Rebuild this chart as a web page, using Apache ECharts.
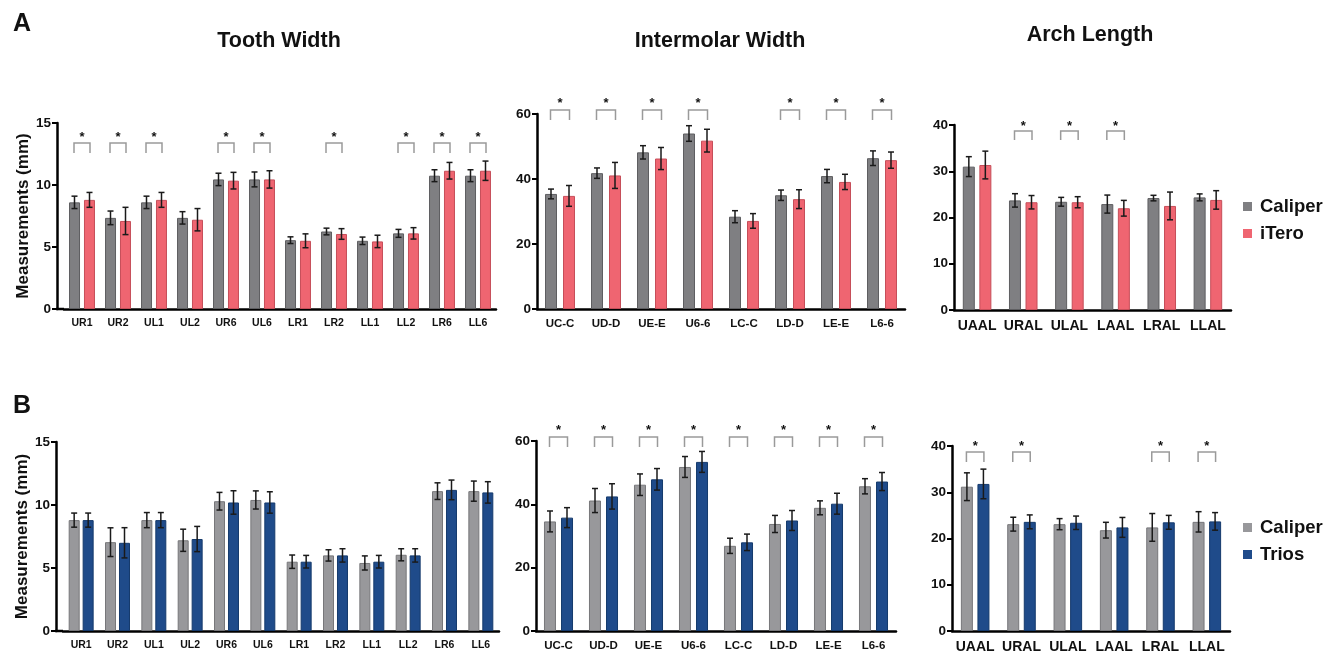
<!DOCTYPE html>
<html><head><meta charset="utf-8">
<script src="https://cdn.jsdelivr.net/npm/echarts@6/dist/echarts.min.js"></script>
<style>html,body{margin:0;padding:0;background:#fff}#c{width:1337px;height:658px}</style>
</head><body><div id="c"></div>
<script>
// ---------- DATA ----------
const toothCats = ['UR1','UR2','UL1','UL2','UR6','UL6','LR1','LR2','LL1','LL2','LR6','LL6'];
const interCats = ['UC-C','UD-D','UE-E','U6-6','LC-C','LD-D','LE-E','L6-6'];
const archCats  = ['UAAL','URAL','ULAL','LAAL','LRAL','LLAL'];
const yTicksTooth = [0,5,10,15];
const yTicksInter = [0,20,40,60];
const yTicksArch  = [0,10,20,30,40];

// Row A: Caliper vs iTero
const aToothCaliper   = [8.6,7.35,8.6,7.35,10.45,10.45,5.55,6.25,5.5,6.1,10.75,10.75];
const aToothCaliperSD = [0.5,0.55,0.5,0.5,0.5,0.6,0.27,0.27,0.3,0.32,0.48,0.48];
const aToothITero     = [8.8,7.1,8.8,7.2,10.35,10.45,5.5,6.05,5.45,6.1,11.15,11.15];
const aToothITeroSD   = [0.6,1.1,0.6,0.9,0.67,0.7,0.56,0.43,0.5,0.46,0.67,0.78];
const aToothSig       = [1,1,1,0,1,1,0,1,0,1,1,1];

const aInterCaliper   = [35.4,41.8,48.2,54.0,28.4,35.0,40.9,46.4];
const aInterCaliperSD = [1.5,1.6,2.05,2.4,1.85,1.6,2.05,2.25];
const aInterITero     = [34.8,41.1,46.3,51.8,27.1,33.8,39.1,45.8];
const aInterITeroSD   = [3.2,4.0,3.4,3.5,2.25,2.9,2.35,2.5];
const aInterSig       = [1,1,1,1,0,1,1,1];

const aArchCaliper    = [31.0,23.7,23.4,22.9,24.2,24.35];
const aArchCaliperSD  = [2.15,1.45,0.95,1.95,0.6,0.75];
const aArchITero      = [31.35,23.3,23.3,22.0,22.5,23.8];
const aArchITeroSD    = [3.0,1.45,1.2,1.7,3.0,2.0];
const aArchSig        = [0,1,1,1,0,0];

// Row B: Caliper vs Trios
const bToothCaliper   = [8.8,7.05,8.8,7.2,10.3,10.4,5.5,6.0,5.4,6.05,11.1,11.1];
const bToothCaliperSD = [0.56,1.14,0.6,0.88,0.7,0.72,0.53,0.45,0.56,0.48,0.66,0.8];
const bToothTrios     = [8.8,7.0,8.8,7.3,10.2,10.2,5.5,6.0,5.5,6.0,11.2,11.0];
const bToothTriosSD   = [0.56,1.2,0.6,1.0,0.93,0.85,0.5,0.53,0.5,0.53,0.78,0.85];
const bToothSig       = [0,0,0,0,0,0,0,0,0,0,0,0];

const bInterCaliper   = [34.6,41.2,46.2,51.8,26.9,33.8,38.9,45.7];
const bInterCaliperSD = [3.3,3.8,3.4,3.3,2.4,2.7,2.2,2.4];
const bInterTrios     = [35.8,42.5,47.9,53.4,28.0,34.9,40.2,47.2];
const bInterTriosSD   = [3.15,4.0,3.4,3.3,2.6,3.15,3.3,2.85];
const bInterSig       = [1,1,1,1,1,1,1,1];

const bArchCaliper    = [31.2,23.1,23.1,21.8,22.4,23.6];
const bArchCaliperSD  = [3.0,1.5,1.2,1.7,3.0,2.2];
const bArchTrios      = [31.8,23.6,23.4,22.4,23.5,23.7];
const bArchTriosSD    = [3.2,1.5,1.45,2.15,1.5,1.9];
const bArchSig        = [1,1,0,0,1,1];

// ---------- STYLE ----------
const FONT = "'Liberation Sans', Arial, Helvetica, sans-serif";
const grayA = '#7f7f82', grayABorder = '#5e5e61';
const grayB = '#98989b', grayBBorder = '#77777a';
const red = '#ef6571', redBorder = '#c64e59';
const blue = '#1f4b8a', blueBorder = '#153a6c';

const panels = [
  {cats: toothCats, ticks: yTicksTooth, grid:{left:64, top:123, width:432, height:186}, yOff:7, axisX:57,
   m1:aToothCaliper, s1:aToothCaliperSD, m2:aToothITero, s2:aToothITeroSD, sig:aToothSig,
   c1:grayA, b1:grayABorder, c2:red, b2:redBorder, bw:11, sep:15, lab:10.5, yName:true, br:[20,30,11]},
  {cats: interCats, ticks: yTicksInter, grid:{left:537, top:114, width:368, height:195}, yOff:0,
   m1:aInterCaliper, s1:aInterCaliperSD, m2:aInterITero, s2:aInterITeroSD, sig:aInterSig,
   c1:grayA, b1:grayABorder, c2:red, b2:redBorder, bw:12, sep:18, lab:11.5, br:[-4,6,-14]},
  {cats: archCats, ticks: yTicksArch, grid:{left:954, top:125, width:277, height:185}, yOff:0,
   m1:aArchCaliper, s1:aArchCaliperSD, m2:aArchITero, s2:aArchITeroSD, sig:aArchSig,
   c1:grayA, b1:grayABorder, c2:red, b2:redBorder, bw:12, sep:16.5, lab:14, br:[6,15,-2]},
  {cats: toothCats, ticks: yTicksTooth, grid:{left:63, top:442, width:436, height:189}, yOff:7, axisX:56,
   m1:bToothCaliper, s1:bToothCaliperSD, m2:bToothTrios, s2:bToothTriosSD, sig:bToothSig,
   c1:grayB, b1:grayBBorder, c2:blue, b2:blueBorder, bw:11, sep:14, lab:10.5, yName:true, br:[20,30,11]},
  {cats: interCats, ticks: yTicksInter, grid:{left:536, top:441, width:360, height:190}, yOff:0,
   m1:bInterCaliper, s1:bInterCaliperSD, m2:bInterTrios, s2:bInterTriosSD, sig:bInterSig,
   c1:grayB, b1:grayBBorder, c2:blue, b2:blueBorder, bw:12, sep:17, lab:11.5, br:[-4,6,-14]},
  {cats: archCats, ticks: yTicksArch, grid:{left:952, top:446, width:278, height:185}, yOff:0,
   m1:bArchCaliper, s1:bArchCaliperSD, m2:bArchTrios, s2:bArchTriosSD, sig:bArchSig,
   c1:grayB, b1:grayBBorder, c2:blue, b2:blueBorder, bw:12, sep:16.5, lab:14, br:[6,16,-3]}
];
const names2 = ['iTero','iTero','iTero','Trios','Trios','Trios'];

function errRender(offset){
  return function(params, api){
    const ci = api.value(0), m = api.value(1), sd = api.value(2);
    const c = api.coord([ci, m]);
    const x = c[0] + offset;
    const yt = api.coord([ci, m + sd])[1];
    const yb = api.coord([ci, m - sd])[1];
    const st = {stroke:'#1a1a1a', lineWidth:1.5};
    return {type:'group', children:[
      {type:'line', shape:{x1:x, y1:yt, x2:x, y2:yb}, style:st},
      {type:'line', shape:{x1:x-3, y1:yt, x2:x+3, y2:yt}, style:st},
      {type:'line', shape:{x1:x-3, y1:yb, x2:x+3, y2:yb}, style:st}
    ]};
  };
}
function sigRender(p){
  return function(params, api){
    const ci = api.value(0);
    const yMax = p.ticks[p.ticks.length-1];
    const c = api.coord([ci, yMax]);
    const x = c[0], top = c[1];
    const h = p.sep/2 + 0.5;
    const yT = top + p.br[0], yB = top + p.br[1], yS = top + p.br[2];
    const st = {stroke:'#9a9a9a', lineWidth:1.5, fill:null};
    return {type:'group', children:[
      {type:'polyline', shape:{points:[[x-h,yB],[x-h,yT],[x+h,yT],[x+h,yB]]}, style:st},
      {type:'text', style:{text:'*', x:x, y:yS+3, align:'center', verticalAlign:'middle', fill:'#111', font:'bold 13px '+FONT}}
    ]};
  };
}

const grids=[], xAxes=[], yAxes=[], series=[];
panels.forEach((p, i) => {
  grids.push(p.grid);
  const yMax = p.ticks[p.ticks.length-1];
  xAxes.push({type:'category', gridIndex:i, data:p.cats,
    axisLine:{lineStyle:{color:'#000', width:2.5}},
    axisTick:{alignWithLabel:true, length:6, lineStyle:{color:'#000', width:2}},
    axisLabel:{color:'#111', fontWeight:'bold', fontSize:p.lab, fontFamily:FONT, margin:9, interval:0},
    splitLine:{show:false}});
  yAxes.push({type:'value', gridIndex:i, min:0, max:yMax, interval:p.ticks[1]-p.ticks[0], offset:p.yOff,
    name: p.yName ? 'Measurements (mm)' : '', nameLocation:'middle', nameGap:25,
    nameTextStyle:{color:'#111', fontWeight:'bold', fontSize:17, fontFamily:FONT},
    axisLine:{show:true, lineStyle:{color:'#000', width:2.5}},
    axisTick:{show:true, length:5, lineStyle:{color:'#000', width:2}},
    axisLabel:{color:'#111', fontWeight:'bold', fontSize:13.5, fontFamily:FONT, margin:6},
    splitLine:{show:false}});
  const gapPct = ((p.sep - p.bw) / p.bw * 100).toFixed(0) + '%';
  series.push({type:'bar', name:'Caliper', xAxisIndex:i, yAxisIndex:i, data:p.m1, barWidth:p.bw, barGap:gapPct,
    itemStyle:{color:p.c1, borderColor:p.b1, borderWidth:1}, silent:true});
  series.push({type:'bar', name:names2[i], xAxisIndex:i, yAxisIndex:i, data:p.m2, barWidth:p.bw, barGap:gapPct,
    itemStyle:{color:p.c2, borderColor:p.b2, borderWidth:1}, silent:true});
  series.push({type:'custom', xAxisIndex:i, yAxisIndex:i, z:5, silent:true,
    data:p.m1.map((v,k)=>[k, v, p.s1[k]]), renderItem:errRender(-p.sep/2)});
  series.push({type:'custom', xAxisIndex:i, yAxisIndex:i, z:5, silent:true,
    data:p.m2.map((v,k)=>[k, v, p.s2[k]]), renderItem:errRender(p.sep/2)});
  series.push({type:'custom', xAxisIndex:i, yAxisIndex:i, z:5, silent:true,
    data:p.sig.map((s,k)=>s ? [k] : null).filter(d=>d), renderItem:sigRender(p)});
});

const graphics = [];
panels.forEach(p => {
  if (p.yOff) {
    const y = p.grid.top + p.grid.height;
    graphics.push({type:'line', shape:{x1:p.axisX-1, y1:y, x2:p.grid.left, y2:y}, style:{stroke:'#000', lineWidth:2.5}});
  }
});

const titleStyle = {fontSize:21.5, fontWeight:'bold', color:'#111', fontFamily:FONT};
const legText = {fontSize:18.5, fontWeight:'bold', color:'#111', fontFamily:FONT, padding:[0,0,0,3]};
const chart = echarts.init(document.getElementById('c'), null, {renderer:'canvas'});
chart.setOption({
  animation:false,
  backgroundColor:'#fff',
  textStyle:{fontFamily:FONT},
  title:[
    {text:'A', left:8, top:7, textStyle:{fontSize:25, fontWeight:'bold', color:'#111', fontFamily:FONT}},
    {text:'B', left:8, top:389, textStyle:{fontSize:25, fontWeight:'bold', color:'#111', fontFamily:FONT}},
    {text:'Tooth Width', left:274, top:25, textAlign:'center', textStyle:titleStyle},
    {text:'Intermolar Width', left:715, top:25, textAlign:'center', textStyle:titleStyle},
    {text:'Arch Length', left:1085, top:19, textAlign:'center', textStyle:titleStyle}
  ],
  legend:[
    {orient:'vertical', left:1238, top:192, icon:'rect', itemWidth:9, itemHeight:9, itemGap:8,
     data:[{name:'Caliper', itemStyle:{color:grayA, borderWidth:0}}, {name:'iTero', itemStyle:{color:red, borderWidth:0}}],
     textStyle:legText, selectedMode:false},
    {orient:'vertical', left:1238, top:513, icon:'rect', itemWidth:9, itemHeight:9, itemGap:8,
     data:[{name:'Caliper', itemStyle:{color:grayB, borderWidth:0}}, {name:'Trios', itemStyle:{color:blue, borderWidth:0}}],
     textStyle:legText, selectedMode:false}
  ],
  grid:grids, xAxis:xAxes, yAxis:yAxes, series:series, graphic:graphics
});
</script></body></html>
